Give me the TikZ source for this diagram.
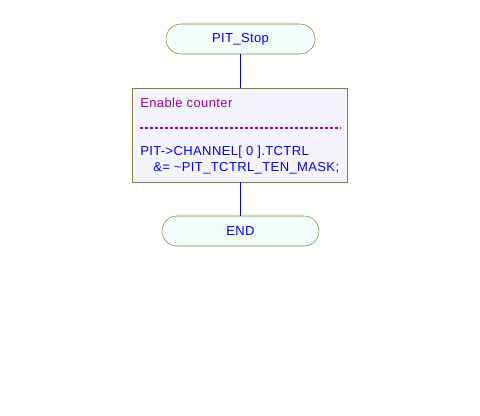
\documentclass[tikz,border=0pt]{standalone}
\usepackage{fontspec}
\setmainfont{Liberation Sans}[LetterSpace=3]
\definecolor{olive}{RGB}{128,128,64}
\definecolor{termfill}{RGB}{242,252,250}
\definecolor{boxfill}{RGB}{244,244,252}
\definecolor{codeblue}{RGB}{0,0,240}
\definecolor{cmtpurple}{RGB}{160,0,160}
\begin{document}
\begin{tikzpicture}[x=0.75pt,y=-0.75pt,
  term/.style={draw=olive, fill=termfill, rounded corners=11.25pt, minimum height=22.5pt, inner sep=0pt, text=codeblue, font=\fontsize{9.75}{12}\selectfont},
  procbox/.style={draw=olive, fill=boxfill, minimum width=161.25pt, minimum height=70.5pt, inner sep=0pt},
  codetxt/.style={anchor=base west, inner sep=0pt, text=codeblue, font=\fontsize{9.75}{12}\selectfont},
  cmttxt/.style={anchor=base west, inner sep=0pt, text=cmtpurple, font=\fontsize{9.75}{12}\selectfont},
  flow/.style={draw=codeblue, line width=0.9pt}]
\useasboundingbox (0,0) rectangle (480,416);
\fill[white] (0,0) rectangle (480,416);
\node[term, minimum width=111.75pt] (start) at (240.5,39) {PIT\_Stop};
\node[procbox] (proc) at (240,135) {};
\node[term, minimum width=117.75pt] (end) at (240.5,231) {END};
\draw[flow] (start.south) -- (start.south |- proc.north);
\draw[flow] (end.north |- proc.south) -- (end.north);
\node[cmttxt] (c1) at (140,107.5) {Enable counter};
\coordinate (d1) at (140,128);
\coordinate (d2) at (341,128);
\draw[draw=cmtpurple, dash pattern=on 2.25pt off 1.5pt, line width=0.9pt] (d1) -- (d2);
\node[codetxt] (l1) at (140,156) {PIT->CHANNEL[ 0 ].TCTRL};
\node[codetxt] (l2) at (140,172) {\hspace*{9.75pt}\&= \textasciitilde PIT\_TCTRL\_TEN\_MASK;};
\end{tikzpicture}
\end{document}
